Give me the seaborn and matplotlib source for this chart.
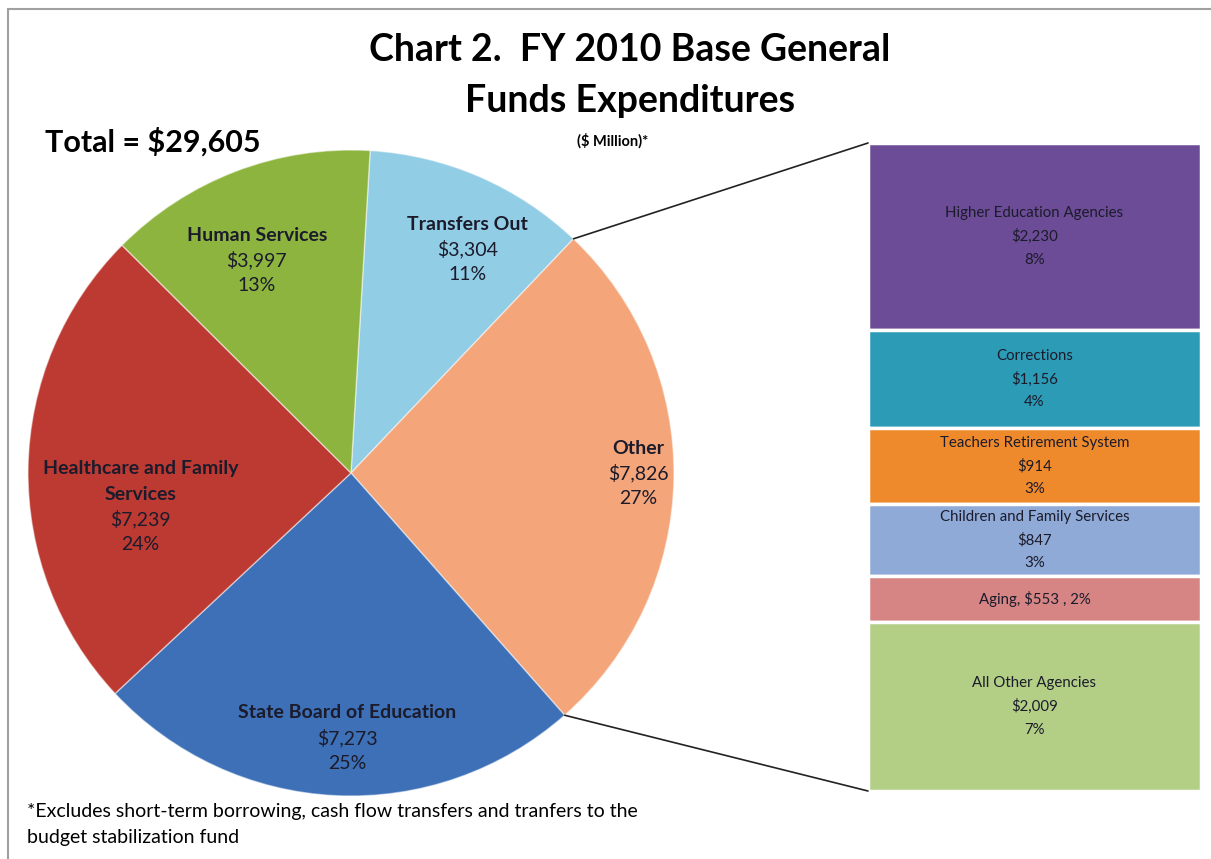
import matplotlib
matplotlib.use("Agg")
import matplotlib.pyplot as plt
import seaborn as sns
import numpy as np
from matplotlib.patches import ConnectionPatch
from matplotlib.lines import Line2D

# ---------------- data ----------------
pie_labels = ["Transfers Out", "Other", "State Board of Education",
              "Healthcare and Family\nServices", "Human Services"]
pie_values = [3304, 7826, 7273, 7239, 3997]
pie_pcts = ["11%", "27%", "25%", "24%", "13%"]

bar_labels = ["Higher Education Agencies", "Corrections", "Teachers Retirement System",
              "Children and Family Services", "Aging", "All Other Agencies"]
bar_values = [2230, 1156, 914, 847, 553, 2009]
bar_pcts = ["8%", "4%", "3%", "3%", "2%", "7%"]

total_label = "Total = $29,605"

# ---------------- style ----------------
sns.set_theme(style="white")
plt.rcParams["font.family"] = ["Lato", "DejaVu Sans"]

pie_colors = ["#92cde6", "#f4a67a", "#3d70b6", "#bd3a33", "#8db43f"]
bar_colors = ["#6c4c96", "#2c9bb6", "#ef8a2c", "#8faad6", "#d68584", "#b3cf86"]
text_color = "#1b1b2b"

W, H = 1211, 859
fig = plt.figure(figsize=(W / 100, H / 100), dpi=100)

def fx(px):
    return px / W

def fy(py):
    return 1 - py / H

# frame lines (top and left)
fig.add_artist(Line2D([fx(8), 1], [fy(9), fy(9)], color="#a0a0a0", lw=1.5))
fig.add_artist(Line2D([fx(8), fx(8)], [fy(9), 0], color="#a0a0a0", lw=1.5))


def stacked_lines(ax, x, y, lines, weights, size, gap_pt):
    n = len(lines)
    for i, (ln, wt) in enumerate(zip(lines, weights)):
        off = ((n - 1) / 2 - i) * gap_pt
        ax.annotate(ln, xy=(x, y), xytext=(0, off), textcoords="offset points",
                    ha="center", va="center", fontsize=size, fontweight=wt,
                    color=text_color)


# ---------------- pie ----------------
cx, cy, R = 351, 473, 323
ax_pie = fig.add_axes([fx(cx - R), fy(cy + R), 2 * R / W, 2 * R / H])
wedges, _ = ax_pie.pie(pie_values, colors=pie_colors, startangle=86.6,
                       counterclock=False, radius=1.0,
                       wedgeprops=dict(edgecolor=(1, 1, 1, 0.5), linewidth=1.0))
ax_pie.set_xlim(-1, 1)
ax_pie.set_ylim(-1, 1)
ax_pie.set_aspect("equal")
ax_pie.axis("off")

# label placement (radius fraction, angle offset in degrees)
label_r = [0.78, 0.89, 0.82, 0.66, 0.72]
label_da = [-4, 1, 2, 10, 3]
for w, name, v, p, r, da in zip(wedges, pie_labels, pie_values, pie_pcts, label_r, label_da):
    ang = np.deg2rad((w.theta1 + w.theta2) / 2 + da)
    x, y = r * np.cos(ang), r * np.sin(ang)
    name_lines = name.split("\n")
    lines = name_lines + [f"${v:,}", p]
    weights = ["bold"] * len(name_lines) + ["normal", "normal"]
    stacked_lines(ax_pie, x, y, lines, weights, 14, 18.2)

# ---------------- stacked bar ----------------
bx0, bx1, by0, by1 = 868, 1201, 143, 791
ax_bar = fig.add_axes([fx(bx0), fy(by1), (bx1 - bx0) / W, (by1 - by0) / H])
bar_total = sum(bar_values)
bottom = 0
for lab, v, p, c in zip(bar_labels, bar_values, bar_pcts, bar_colors):
    ax_bar.bar(0, v, width=1.0, bottom=bottom, color=c,
               edgecolor="white", linewidth=2.5)
    mid = bottom + v / 2
    if lab == "Aging":
        lines = [f"{lab}, ${v:,} , {p}"]
    else:
        lines = [lab, f"${v:,}", p]
    stacked_lines(ax_bar, 0, mid, lines, ["normal"] * len(lines), 10.8, 16.8)
    bottom += v
ax_bar.set_xlim(-0.5, 0.5)
ax_bar.set_ylim(bar_total, 0)
ax_bar.axis("off")

# ---------------- connector lines ----------------
a1 = np.deg2rad(wedges[0].theta1)
a2 = np.deg2rad(wedges[1].theta1)
for ang, yb in [(a1, 0), (a2, bar_total)]:
    con = ConnectionPatch(xyA=(np.cos(ang), np.sin(ang)), coordsA=ax_pie.transData,
                          xyB=(-0.5, yb), coordsB=ax_bar.transData,
                          color="#222222", lw=1.2)
    fig.add_artist(con)

# ---------------- titles & notes ----------------
fig.text(fx(630), fy(50), "Chart 2.  FY 2010 Base General", ha="center", va="center",
         fontsize=27, fontweight="bold", color="black")
fig.text(fx(630), fy(101), "Funds Expenditures", ha="center", va="center",
         fontsize=27, fontweight="bold", color="black")
fig.text(fx(613), fy(141), "($ Million)*", ha="center", va="center",
         fontsize=10.5, fontweight="bold", color="black")
fig.text(fx(45), fy(142), total_label, ha="left", va="center",
         fontsize=22, fontweight="bold", color="black")
fig.text(fx(27), fy(812), "*Excludes short-term borrowing, cash flow transfers and tranfers to the",
         ha="left", va="center", fontsize=14, color="black")
fig.text(fx(27), fy(838), "budget stabilization fund",
         ha="left", va="center", fontsize=14, color="black")

fig.savefig("out.png", dpi=100, facecolor="white")
